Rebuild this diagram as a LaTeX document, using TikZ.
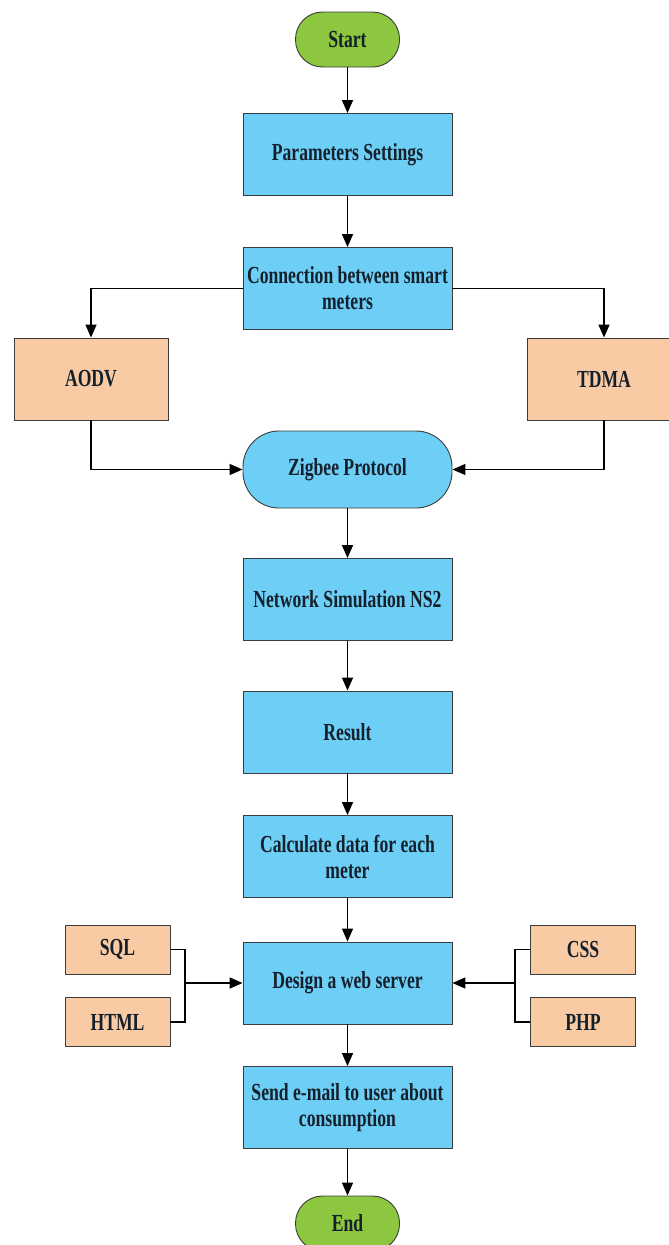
\documentclass[tikz,border=0pt]{standalone}
\usepackage{fontspec}
\setmainfont{Liberation Serif}[FakeStretch=0.72]
\usetikzlibrary{arrows.meta}
\definecolor{boxblue}{HTML}{6DCFF6}
\definecolor{boxpeach}{HTML}{F9CBA4}
\definecolor{termgreen}{HTML}{8DC63F}
\definecolor{edgegray}{HTML}{3C3C3C}
\definecolor{labelink}{HTML}{14202B}
\tikzset{
  base/.style={draw=edgegray, line width=0.9pt, text=labelink, align=center,
    font=\fontsize{24.5}{26}\selectfont\bfseries, inner sep=2pt},
  procbox/.style={base, fill=boxblue, minimum width=209pt, minimum height=82pt},
  sidebox/.style={base, fill=boxpeach, minimum width=154pt, minimum height=82pt},
  techbox/.style={base, fill=boxpeach, minimum width=105pt, minimum height=49pt},
  terminal/.style={base, fill=termgreen, minimum width=104pt, minimum height=55pt, rounded corners=27pt},
  protocol/.style={base, fill=boxblue, minimum width=209pt, minimum height=77pt, rounded corners=36pt},
  flow/.style={line width=1.5pt, draw=black, -{Triangle[length=13pt,width=11pt]}},
  link/.style={line width=1.5pt, draw=black}
}
\begin{document}
\begin{tikzpicture}[x=1pt,y=-1pt]
\useasboundingbox (0,0) rectangle (669,1245);

% main column
\node[terminal] (start) at (347.5,39.5) {Start};
\node[procbox] (params) at (347.5,154.5) {Parameters Settings};
\node[procbox] (conn) at (347.5,288.5) {Connection between smart\\meters};
\node[protocol] (zig) at (347.5,469.5) {Zigbee Protocol};
\node[procbox] (ns2) at (347.5,599.5) {Network Simulation NS2};
\node[procbox] (result) at (347.5,732) {Result};
\node[procbox] (calc) at (347.5,856.5) {Calculate data for each\\meter};
\node[procbox] (web) at (347.5,983) {Design a web server};
\node[procbox] (mail) at (347.5,1107.5) {Send e-mail to user about\\consumption};
\node[terminal] (end) at (347.5,1223.5) {End};

% routing / access options
\node[sidebox] (aodv) at (91,379) {AODV};
\node[sidebox] (tdma) at (604,379) {TDMA};

% web technologies
\node[techbox] (sql) at (117.5,949.5) {SQL};
\node[techbox] (html) at (117.5,1022) {HTML};
\node[techbox] (css) at (583,949.5) {CSS};
\node[techbox] (php) at (583,1022) {PHP};

\coordinate (jl) at (185,983);
\coordinate (jr) at (515,983);

% vertical flow
\draw[flow] (start) -- (params);
\draw[flow] (params) -- (conn);
\draw[flow] (zig) -- (ns2);
\draw[flow] (ns2) -- (result);
\draw[flow] (result) -- (calc);
\draw[flow] (calc) -- (web);
\draw[flow] (web) -- (mail);
\draw[flow] (mail) -- (end);

% branches to the protocols and back
\draw[flow] (conn.west) -| (aodv.north);
\draw[flow] (conn.east) -| (tdma.north);
\draw[flow] (aodv.south) |- (zig.west);
\draw[flow] (tdma.south) |- (zig.east);

% technologies feeding the web server
\draw[link] (sql.east) -| (jl);
\draw[link] (html.east) -| (jl);
\draw[flow] (jl) -- (web.west);
\draw[link] (css.west) -| (jr);
\draw[link] (php.west) -| (jr);
\draw[flow] (jr) -- (web.east);
\end{tikzpicture}
\end{document}
